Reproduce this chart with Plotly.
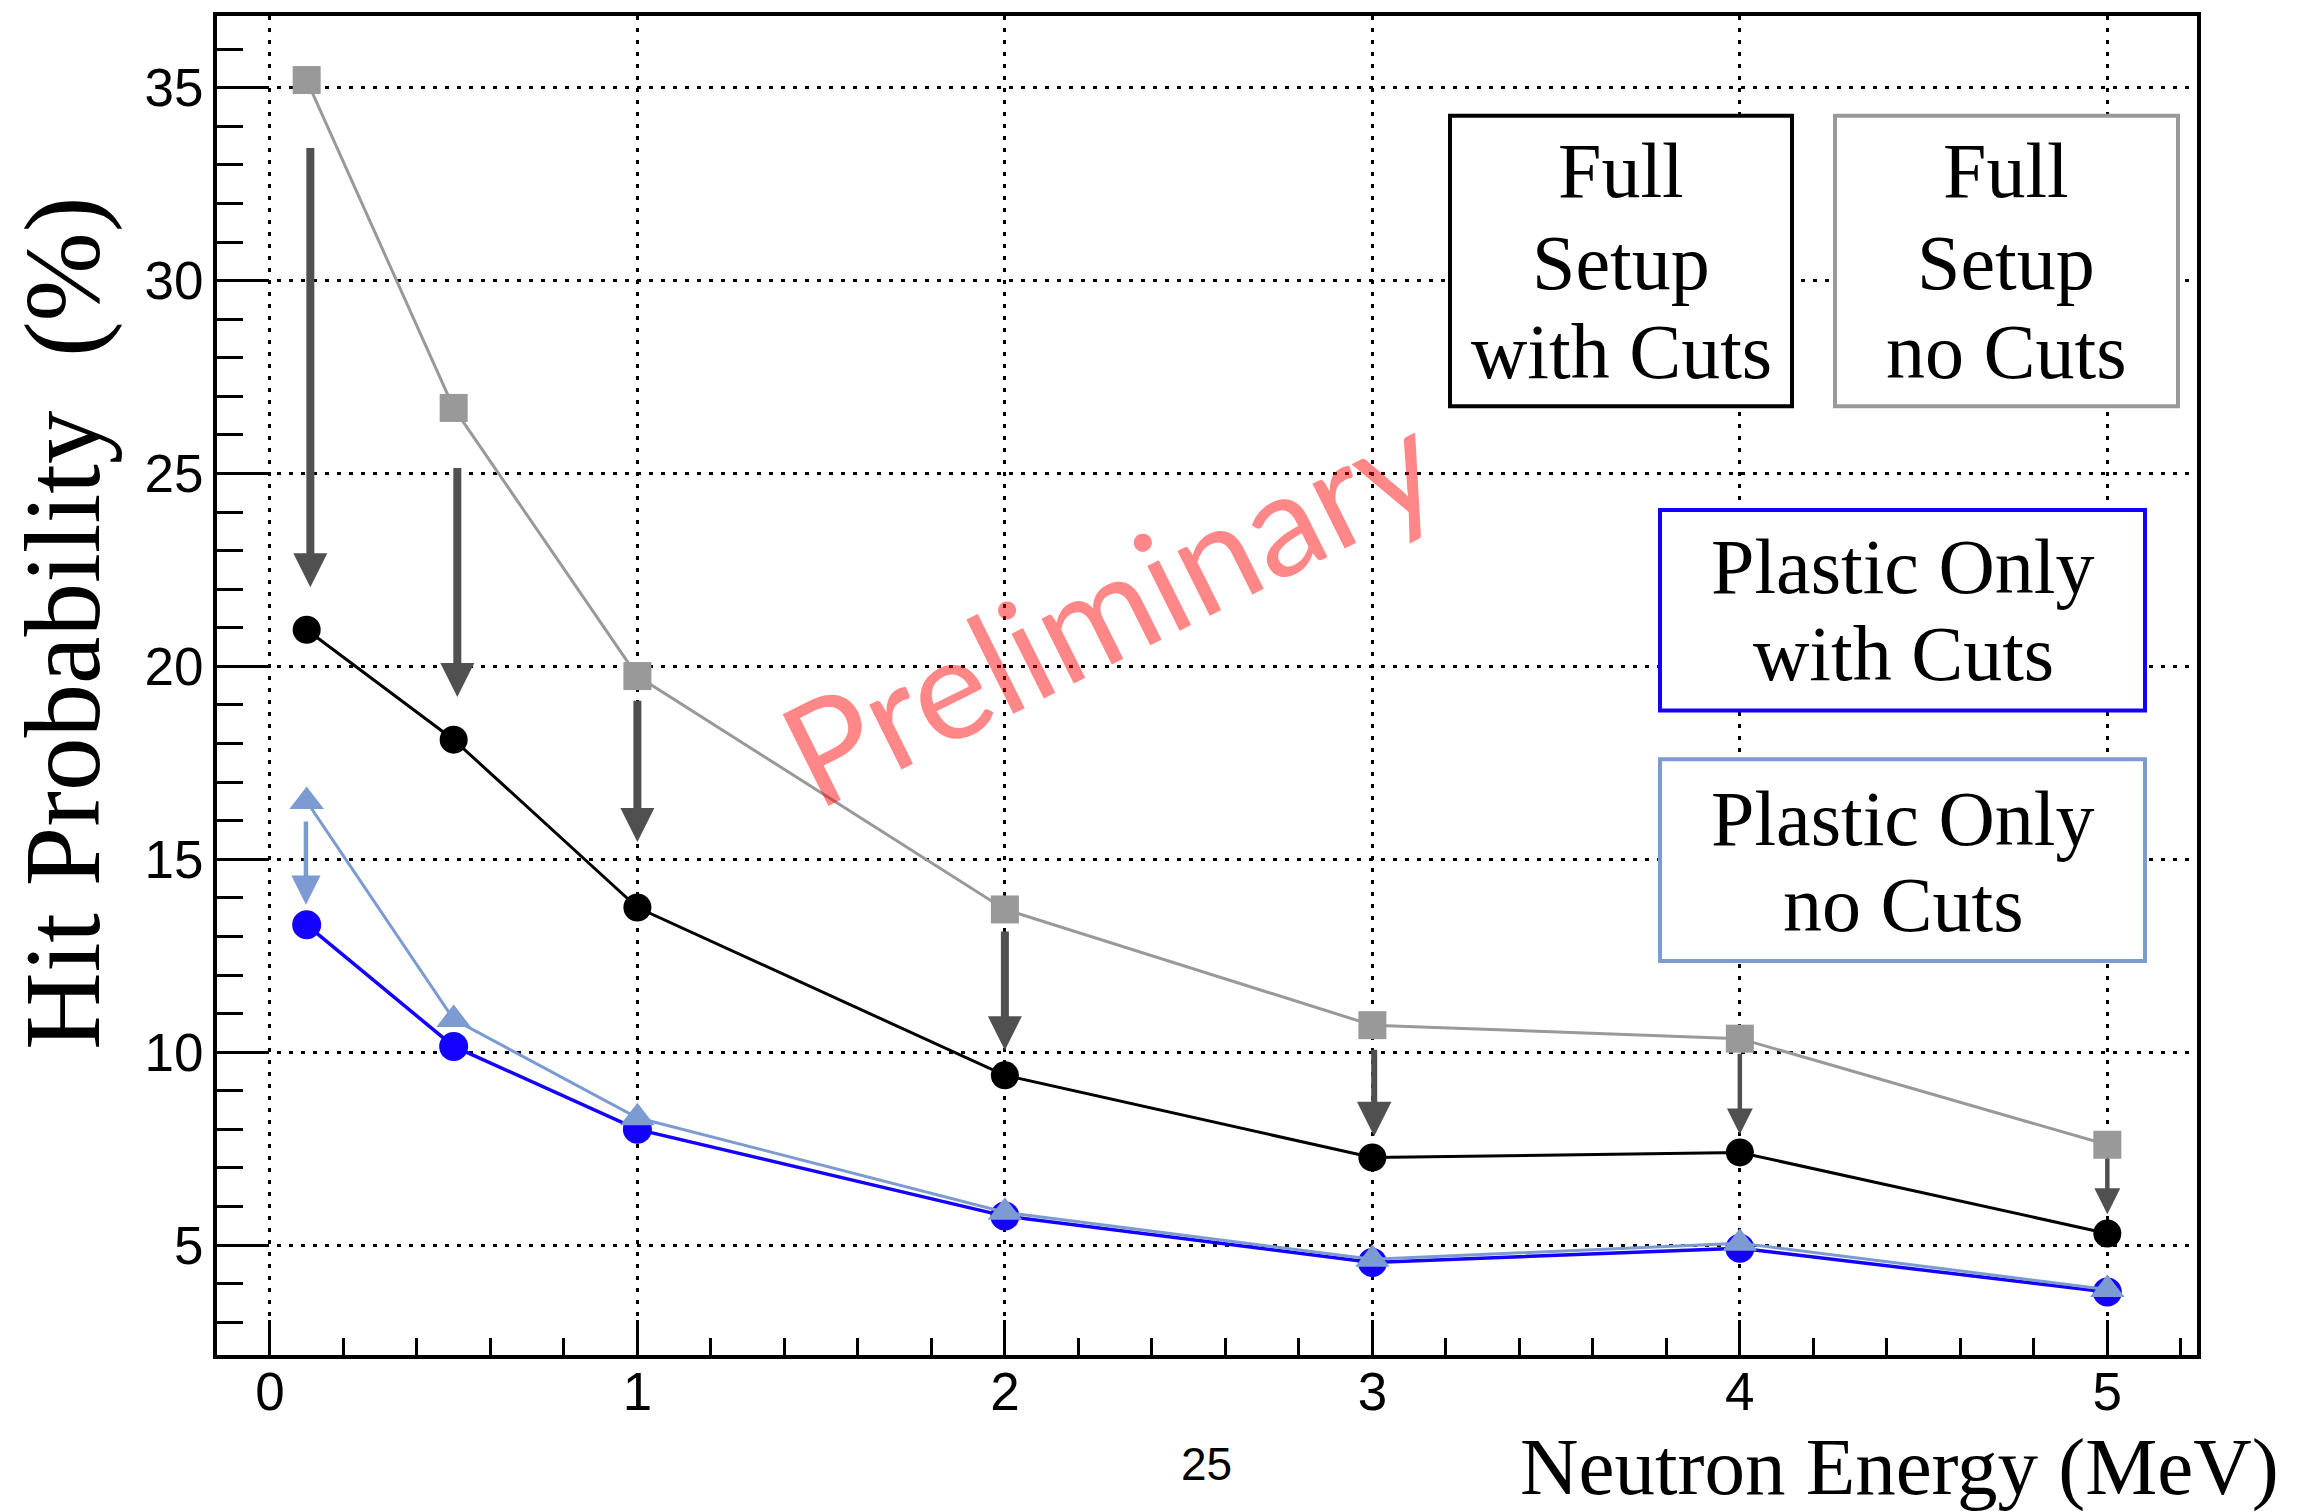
import plotly.graph_objects as go

# ---------------- data ----------------
energy = [0.1, 0.5, 1, 2, 3, 4, 5]
full_no_cuts = [35.2, 26.7, 19.75, 13.7, 10.7, 10.35, 7.6]
full_with_cuts = [20.95, 18.1, 13.75, 9.4, 7.27, 7.4, 5.3]
plastic_with_cuts = [13.3, 10.15, 8.0, 5.75, 4.55, 4.92, 3.78]
plastic_no_cuts = [16.5, 10.85, 8.3, 5.85, 4.63, 5.05, 3.85]

# arrows showing effect of cuts (x, tail value, tip value)
arrow_x = [0.11, 0.51, 1.0, 2.0, 3.005, 4.0, 5.0]
arrow_tail = [33.48, 25.18, 19.15, 13.17, 10.1, 10.0, 7.27]
arrow_tip = [22.05, 19.21, 15.45, 10.05, 7.82, 7.87, 5.8]
plastic_arrow_x = [0.098]
plastic_arrow_tail = [16.02]
plastic_arrow_tip = [13.82]

x_ticks = [0, 1, 2, 3, 4, 5]
y_ticks = [5, 10, 15, 20, 25, 30, 35]

# ---------------- styles ----------------
W_FIG, H_FIG = 2307, 1511
L, R, T, B = 217, 2197, 13, 1355
PW, PH = R - L, B - T

GRAY = "#999999"
BLUE = "#1400ff"
LBLUE = "#7c9bd2"
ARROW = "#505050"
SERIF = "Liberation Serif, Times New Roman, serif"
SANS = "Liberation Sans, Arial, sans-serif"

arrow_width = [8, 8, 8, 8, 6, 4.5, 4.5]
arrow_size = [0.85, 0.85, 0.85, 0.85, 1.15, 1.15, 1.15]


def px(xp):
    return (xp - L) / PW


def py(yp):
    return (B - yp) / PH


fig = go.Figure()

fig.add_trace(go.Scatter(x=energy, y=full_no_cuts, mode="lines+markers",
                         line=dict(color=GRAY, width=3),
                         marker=dict(symbol="square", size=28, color=GRAY),
                         name="Full Setup no Cuts"))
fig.add_trace(go.Scatter(x=energy, y=full_with_cuts, mode="lines+markers",
                         line=dict(color="black", width=3),
                         marker=dict(symbol="circle", size=28, color="black"),
                         name="Full Setup with Cuts"))
fig.add_trace(go.Scatter(x=energy, y=plastic_with_cuts, mode="lines+markers",
                         line=dict(color=BLUE, width=3.5),
                         marker=dict(symbol="circle", size=29, color=BLUE),
                         name="Plastic Only with Cuts"))
fig.add_trace(go.Scatter(x=energy, y=plastic_no_cuts, mode="lines+markers",
                         line=dict(color=LBLUE, width=3),
                         marker=dict(symbol="triangle-up", size=30, color=LBLUE),
                         name="Plastic Only no Cuts"))

annotations = []
for i, (xa, t0, t1) in enumerate(zip(arrow_x, arrow_tail, arrow_tip)):
    annotations.append(dict(x=xa, y=t1, ax=xa, ay=t0, xref="x", yref="y",
                            axref="x", ayref="y", text="", showarrow=True,
                            arrowhead=2, arrowwidth=arrow_width[i],
                            arrowsize=arrow_size[i], arrowcolor=ARROW,
                            standoff=0))
for xa, t0, t1 in zip(plastic_arrow_x, plastic_arrow_tail, plastic_arrow_tip):
    annotations.append(dict(x=xa, y=t1, ax=xa, ay=t0, xref="x", yref="y",
                            axref="x", ayref="y", text="", showarrow=True,
                            arrowhead=2, arrowwidth=4.5, arrowsize=1.3,
                            arrowcolor=LBLUE, standoff=0))

# boxes (legend-like text panes)
boxes = [
    (1450, 1792, 113, 404, "black"),
    (1835, 2178, 113, 404, GRAY),
    (1660, 2145, 508, 709, BLUE),
    (1660, 2145, 758, 960, LBLUE),
]
shapes = []
for x0, x1, y0, y1, c in boxes:
    shapes.append(dict(type="rect", xref="paper", yref="paper",
                       x0=px(x0), x1=px(x1), y0=py(y1), y1=py(y0),
                       line=dict(color=c, width=4), fillcolor="white",
                       layer="above"))

box_lines = [
    (1621, 168, "Full"), (1621, 260, "Setup"), (1621, 349, "with Cuts"),
    (2006, 168, "Full"), (2006, 260, "Setup"), (2006, 349, "no Cuts"),
    (1903, 565, "Plastic Only"), (1903, 652, "with Cuts"),
    (1903, 817, "Plastic Only"), (1903, 903, "no Cuts"),
]
for xc, yc, txt in box_lines:
    annotations.append(dict(x=px(xc), y=py(yc), xref="paper", yref="paper",
                            text=txt, showarrow=False, xanchor="center",
                            yanchor="middle",
                            font=dict(family=SERIF, size=78, color="black")))

# watermark
annotations.append(dict(x=px(1108), y=py(603), xref="paper", yref="paper",
                        text="Preliminary", showarrow=False, textangle=-26.5,
                        xanchor="center", yanchor="middle",
                        font=dict(family="Lato, Liberation Sans, sans-serif",
                                  size=143, color="rgba(255,0,0,0.47)")))

# axis titles
annotations.append(dict(x=px(64), y=py(622), xref="paper", yref="paper",
                        text="Hit Probability\u00a0 (%)", showarrow=False,
                        textangle=-90, xanchor="center", yanchor="middle",
                        font=dict(family=SERIF, size=107, color="black")))
annotations.append(dict(x=px(2281), y=py(1467), xref="paper", yref="paper",
                        text="Neutron Energy (MeV)", showarrow=False,
                        xanchor="right", yanchor="middle",
                        font=dict(family=SERIF, size=81, color="black")))
annotations.append(dict(x=px(1206), y=py(1464), xref="paper", yref="paper",
                        text="25", showarrow=False,
                        xanchor="center", yanchor="middle",
                        font=dict(family=SANS, size=46, color="black")))

grid_style = dict(showgrid=True, gridcolor="black", gridwidth=3,
                  griddash="4px,8px")

fig.update_layout(
    width=W_FIG, height=H_FIG, autosize=False,
    margin=dict(l=L, r=W_FIG - R, t=T, b=H_FIG - B, pad=0),
    paper_bgcolor="white", plot_bgcolor="white",
    showlegend=False,
    xaxis=dict(range=[-0.144, 5.244], tickvals=x_ticks,
               ticktext=[str(v) for v in x_ticks],
               ticks="inside", ticklen=35, tickwidth=3, tickcolor="black",
               minor=dict(dtick=0.2, tick0=0, ticks="inside", ticklen=17,
                          tickwidth=3, tickcolor="black", showgrid=False),
               showline=True, linewidth=4, linecolor="black", mirror=True,
               zeroline=False, ticklabelstandoff=-13,
               tickfont=dict(family=SANS, size=53, color="black"),
               **grid_style),
    yaxis=dict(range=[2.15, 36.86], tickvals=y_ticks,
               ticktext=[str(v) for v in y_ticks],
               ticks="inside", ticklen=52, tickwidth=3, tickcolor="black",
               minor=dict(dtick=1, tick0=0, ticks="inside", ticklen=26,
                          tickwidth=3, tickcolor="black", showgrid=False),
               showline=True, linewidth=4, linecolor="black", mirror=True,
               zeroline=False, ticklabelstandoff=-1,
               tickfont=dict(family=SANS, size=53, color="black"),
               **grid_style),
    shapes=shapes,
    annotations=annotations,
)

fig.write_html("out.html")
